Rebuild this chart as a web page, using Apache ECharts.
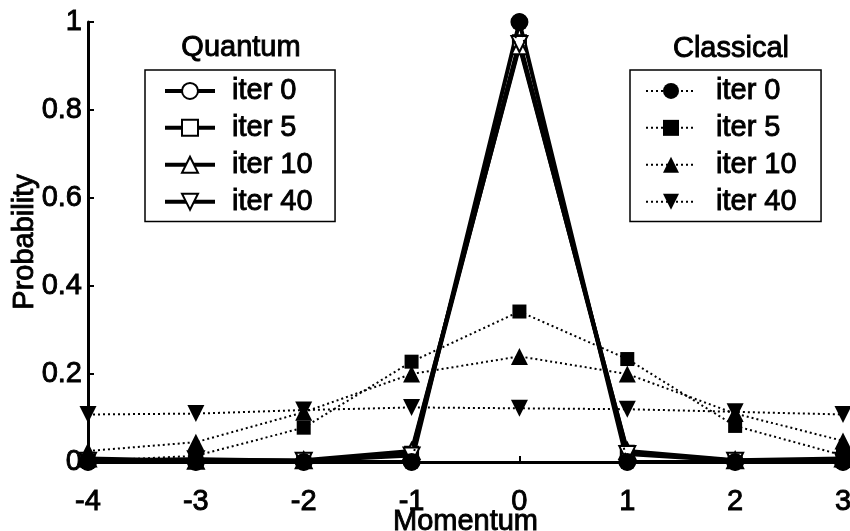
<!DOCTYPE html>
<html>
<head>
<meta charset="utf-8">
<script src="https://cdn.jsdelivr.net/npm/echarts@6/dist/echarts.min.js"></script>
<style>
  html, body { margin: 0; padding: 0; background: #fff; }
  #chart { width: 850px; height: 531px; }
</style>
</head>
<body>
<div id="chart"></div>
<script>
// Momentum grid points
const momentum = [-4, -3, -2, -1, 0, 1, 2, 3];

// Quantum walk probabilities
const quantumIter0  = [0, 0, 0, 0, 1, 0, 0, 0];
const quantumIter5  = [0.004, 0.005, 0.002, 0.02, 0.955, 0.022, 0.003, 0.004];
const quantumIter10 = [0.008, 0.003, 0.004, 0.025, 0.945, 0.025, 0.004, 0.008];
const quantumIter40 = [0.003, 0.006, 0.003, 0.015, 0.95, 0.018, 0.003, 0.003];

// Classical random walk probabilities
const classicalIter0  = [0, 0, 0, 0, 1, 0, 0, 0];
const classicalIter5  = [0.002, 0.014, 0.078, 0.228, 0.342, 0.234, 0.082, 0.015];
const classicalIter10 = [0.025, 0.045, 0.113, 0.2, 0.24, 0.2, 0.11, 0.048];
const classicalIter40 = [0.108, 0.11, 0.118, 0.124, 0.122, 0.12, 0.114, 0.108];

const iterLabels = ['iter 0', 'iter 5', 'iter 10', 'iter 40'];
const quantumSets = [quantumIter0, quantumIter5, quantumIter10, quantumIter40];
const classicalSets = [classicalIter0, classicalIter5, classicalIter10, classicalIter40];

const FONT = '"Liberation Sans", Arial, sans-serif';
const FS = 29;
// slight outline gives the heavier print-like strokes
const INK = { color: '#000', fontFamily: FONT, fontSize: FS, textBorderColor: '#000', textBorderWidth: 0.9 };

const pairs = (ys) => momentum.map((x, i) => [x, ys[i]]);

const openSymbols = ['emptyCircle', 'emptyRect', 'emptyTriangle', 'emptyTriangle'];
const openSizes = [15, 13, 16, 16];
const filledSymbols = ['circle', 'rect', 'triangle', 'triangle'];
const filledSizes = [18, 14, 17, 17];
const rotations = [0, 0, 0, 180];

const series = [];
quantumSets.forEach((ys, k) => {
  series.push({
    name: 'Q ' + iterLabels[k],
    type: 'line',
    data: pairs(ys),
    symbol: openSymbols[k],
    symbolSize: openSizes[k],
    symbolRotate: rotations[k],
    showAllSymbol: true,
    color: '#000',
    itemStyle: { color: '#000', borderWidth: 2 },
    lineStyle: { color: '#000', width: 4 },
    z: 2,
    animation: false
  });
});
classicalSets.forEach((ys, k) => {
  series.push({
    name: 'C ' + iterLabels[k],
    type: 'line',
    data: pairs(ys),
    symbol: filledSymbols[k],
    symbolSize: filledSizes[k],
    symbolRotate: rotations[k],
    showAllSymbol: true,
    color: '#000',
    itemStyle: { color: '#000' },
    lineStyle: { color: '#000', width: 2, type: [2, 3] },
    z: 3,
    animation: false
  });
});

function makeLegend(prefix, left, padding, textPad, lineStyle) {
  return {
    orient: 'vertical',
    left: left,
    top: 70,
    data: iterLabels.map(l => prefix + l),
    formatter: (name) => name.slice(2),
    itemWidth: 50,
    itemHeight: 20,
    itemGap: 7,
    padding: padding,
    borderColor: '#000',
    borderWidth: 1.5,
    borderRadius: 0,
    backgroundColor: '#fff',
    selectedMode: false,
    lineStyle: lineStyle,
    textStyle: Object.assign({}, INK, { lineHeight: 20, padding: [0, 0, 0, textPad] })
  };
}

const chart = echarts.init(document.getElementById('chart'), null, { renderer: 'canvas' });
chart.setOption({
  backgroundColor: '#fff',
  animation: false,
  textStyle: { fontFamily: FONT },
  grid: { left: 88, right: 7, top: 22, bottom: 69, containLabel: false, outerBoundsMode: 'none' },
  xAxis: {
    type: 'value',
    min: -4,
    max: 3,
    interval: 1,
    name: 'Momentum',
    nameLocation: 'middle',
    nameGap: 45,
    nameMoveOverlap: false,
    nameTextStyle: INK,
    axisLine: { onZero: false, lineStyle: { color: '#000', width: 3 } },
    axisTick: { inside: true, length: 6, lineStyle: { color: '#000', width: 2 } },
    axisLabel: Object.assign({}, INK, { margin: 25 }),
    splitLine: { show: false }
  },
  yAxis: {
    type: 'value',
    min: 0,
    max: 1,
    interval: 0.2,
    name: 'Probability',
    nameLocation: 'middle',
    nameRotate: 90,
    nameGap: 49,
    nameMoveOverlap: false,
    nameTextStyle: INK,
    axisLine: { onZero: false, lineStyle: { color: '#000', width: 3 } },
    axisTick: { inside: true, length: 6, lineStyle: { color: '#000', width: 2 } },
    axisLabel: Object.assign({}, INK, { margin: 6 }),
    splitLine: { show: false }
  },
  legend: [
    makeLegend('Q ', 145, [6, 22, 5, 18], 12, { width: 4, color: '#000' }),
    makeLegend('C ', 630, [6, 24, 5, 15], 15, { width: 2, color: '#000', type: [2, 3] })
  ],
  graphic: [
    { type: 'text', x: 241, y: 48, style: {
        text: 'Quantum', font: FS + 'px ' + FONT, fill: '#000', stroke: '#000', lineWidth: 0.9,
        textAlign: 'center', textVerticalAlign: 'middle' } },
    { type: 'text', x: 731, y: 49, style: {
        text: 'Classical', font: FS + 'px ' + FONT, fill: '#000', stroke: '#000', lineWidth: 0.9,
        textAlign: 'center', textVerticalAlign: 'middle' } }
  ],
  series: series
});
</script>
</body>
</html>
